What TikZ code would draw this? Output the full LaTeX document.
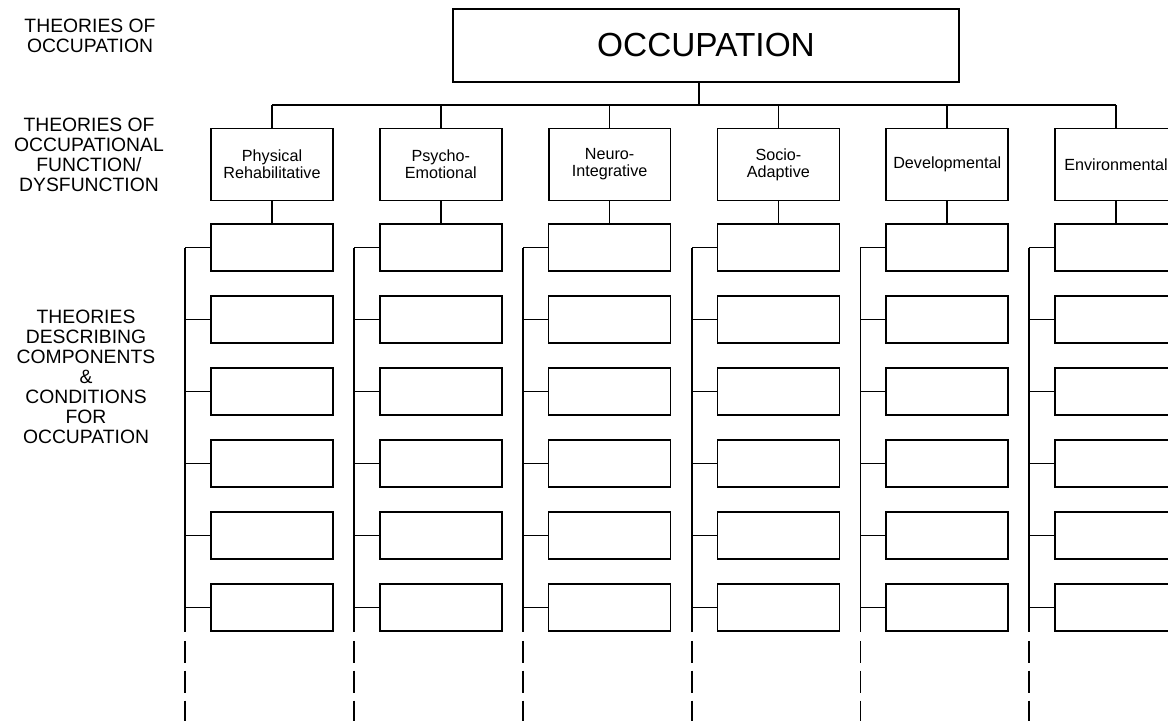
\documentclass[tikz,border=0pt]{standalone}
\usepackage{fontspec}
\setmainfont{Liberation Sans}
\usetikzlibrary{calc}

\tikzset{
  level/.style={align=center, font=\fontsize{11}{11.4}\selectfont},
  theory/.style={draw, line width=1pt, inner sep=0pt, minimum width=2.44cm, minimum height=1.44cm, align=center, font=\fontsize{9.2}{9.6}\selectfont},
  part/.style={draw, line width=0.9pt, inner sep=0pt, minimum width=2.44cm, minimum height=0.94cm},
  link/.style={line width=1pt},
}

\begin{document}
\begin{tikzpicture}[x=0.02cm, y=-0.02cm]
    \useasboundingbox (0,0) rectangle (1168,721);
    \clip (0,0) rectangle (1168,721);
    \node[level] (lvlocc) at (90,36) {THEORIES OF\\OCCUPATION};
    \node[level] (lvlfun) at (89,155) {THEORIES OF\\OCCUPATIONAL\\FUNCTION/\\DYSFUNCTION};
    \node[level] (lvlcomp) at (86,377) {THEORIES\\DESCRIBING\\COMPONENTS\\\&\\CONDITIONS\\FOR\\OCCUPATION};
    \node[draw, line width=1pt, inner sep=0pt, minimum width=10.12cm, minimum height=1.46cm, font=\fontsize{19}{22}\selectfont] (occ) at (706,45.5) {OCCUPATION};
    \coordinate (bus) at (699,105);
    \coordinate (bottom) at (0,721);
    \draw[link] (occ.south -| bus) -- (bus);
    \foreach \name [count=\k from 0] in {Physical\\Rehabilitative, Psycho-\\Emotional, Neuro-\\Integrative, Socio-\\Adaptive, Developmental, Environmental}
      \node[theory] (t\k) at (272+168.8*\k,164.5) {\name};
    \draw[link] (t0.north |- bus) -- (t5.north |- bus);
    \foreach \k in {0,...,5} {
      \draw[link] (t\k.north) -- (t\k.north |- bus);
      \foreach \j in {1,...,6}
        \node[part] (c\k-\j) at (272+168.8*\k,247.5+72*\j-72) {};
      \draw[link] (t\k.south) -- (c\k-1.north);
      \coordinate (s\k) at ($(c\k-1.west)+(-25,0)$);
      \coordinate (e\k) at ($(c\k-6.south west)+(-25,0)$);
      \draw[link] (s\k) -- (e\k);
      \foreach \j in {1,...,6}
        \draw[link] (c\k-\j.west) -- (c\k-\j.west -| s\k);
      \draw[link, dash pattern=on 12.5pt off 4.5pt] ($(e\k)+(0,9)$) -- (s\k |- bottom);
    }
\end{tikzpicture}
\end{document}
